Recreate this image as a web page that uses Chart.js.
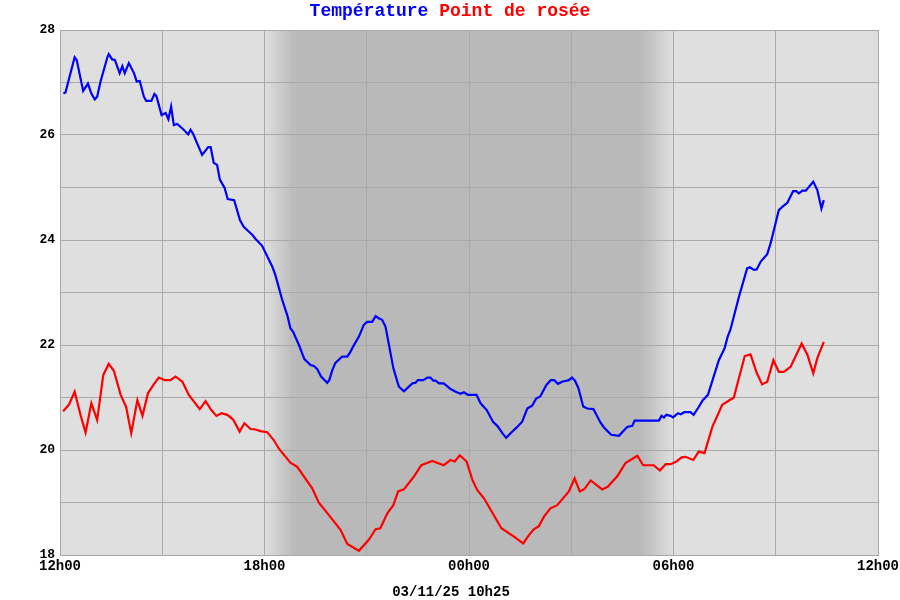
<!DOCTYPE html>
<html>
<head>
<meta charset="utf-8">
<script src="https://cdn.jsdelivr.net/npm/chart.js@4"></script>
<style>
  html, body { margin: 0; padding: 0; background: #ffffff; }
  #wrap { width: 900px; height: 600px; }
</style>
</head>
<body>
<div id="wrap"><canvas id="c" width="900" height="600"></canvas></div>
<script>
// Hours elapsed since 12h00 (02/11/25) and readings in °C
const tempHours = [0.10,0.16,0.43,0.49,0.68,0.82,0.92,1.02,1.09,1.19,1.39,1.43,1.53,1.61,1.75,1.83,1.90,2.02,2.17,2.25,2.34,2.46,2.53,2.68,2.77,2.83,2.98,3.10,3.18,3.26,3.34,3.44,3.63,3.76,3.83,3.90,4.03,4.17,4.35,4.42,4.51,4.61,4.69,4.83,4.92,5.11,5.28,5.39,5.49,5.64,5.74,5.93,6.23,6.32,6.52,6.68,6.76,6.84,7.01,7.17,7.35,7.45,7.55,7.66,7.84,7.90,7.99,8.08,8.28,8.43,8.52,8.60,8.77,8.91,9.01,9.16,9.26,9.35,9.45,9.55,9.78,9.94,10.09,10.34,10.43,10.50,10.66,10.78,10.87,10.95,11.02,11.12,11.26,11.46,11.61,11.75,11.85,11.97,12.22,12.34,12.52,12.71,12.83,12.98,13.09,13.22,13.40,13.56,13.71,13.86,13.97,14.09,14.27,14.40,14.50,14.61,14.73,14.93,15.02,15.11,15.21,15.35,15.47,15.65,15.86,15.96,16.17,16.40,16.64,16.79,16.86,17.57,17.65,17.72,17.79,17.91,17.99,18.13,18.21,18.32,18.50,18.59,18.73,18.86,19.01,19.33,19.50,19.59,19.67,19.92,20.16,20.24,20.36,20.44,20.56,20.75,20.85,21.09,21.19,21.34,21.51,21.60,21.68,21.78,21.88,22.10,22.22,22.34,22.41];
const temperature = [26.79,26.81,27.48,27.43,26.84,26.98,26.79,26.68,26.73,27.02,27.48,27.54,27.44,27.43,27.18,27.31,27.18,27.37,27.18,27.02,27.03,26.73,26.65,26.65,26.78,26.74,26.38,26.42,26.30,26.54,26.19,26.21,26.10,26.01,26.10,26.03,25.83,25.62,25.77,25.77,25.47,25.43,25.15,24.99,24.78,24.76,24.38,24.25,24.19,24.10,24.02,23.89,23.49,23.33,22.86,22.54,22.32,22.25,22.00,21.73,21.62,21.60,21.54,21.40,21.28,21.33,21.52,21.66,21.78,21.78,21.87,21.97,22.16,22.38,22.44,22.44,22.55,22.51,22.48,22.35,21.56,21.21,21.12,21.27,21.28,21.33,21.33,21.38,21.38,21.32,21.32,21.27,21.27,21.16,21.11,21.07,21.10,21.05,21.05,20.89,20.76,20.53,20.46,20.32,20.23,20.32,20.43,20.54,20.79,20.85,20.98,21.02,21.24,21.33,21.33,21.26,21.30,21.33,21.38,21.32,21.18,20.83,20.79,20.78,20.52,20.43,20.29,20.27,20.44,20.46,20.56,20.56,20.65,20.62,20.67,20.65,20.62,20.70,20.68,20.72,20.72,20.67,20.81,20.95,21.05,21.71,21.94,22.16,22.29,22.92,23.46,23.48,23.43,23.44,23.59,23.73,23.94,24.57,24.63,24.71,24.93,24.93,24.89,24.94,24.94,25.11,24.95,24.60,24.76];

const dewHours = [0.09,0.26,0.43,0.60,0.75,0.92,1.09,1.27,1.43,1.58,1.78,1.94,2.09,2.27,2.42,2.58,2.75,2.90,3.07,3.24,3.39,3.59,3.78,4.10,4.27,4.44,4.59,4.74,4.91,5.08,5.27,5.41,5.59,5.74,5.88,6.08,6.27,6.43,6.76,6.96,7.40,7.59,7.89,8.23,8.43,8.77,9.06,9.26,9.40,9.60,9.78,9.92,10.09,10.38,10.60,10.92,11.26,11.46,11.58,11.73,11.93,12.10,12.24,12.44,12.78,12.95,13.32,13.59,13.76,13.90,14.05,14.20,14.39,14.59,14.93,15.10,15.25,15.39,15.57,15.91,16.07,16.35,16.59,16.94,17.11,17.42,17.60,17.77,17.91,18.06,18.24,18.35,18.58,18.74,18.91,19.14,19.43,19.77,20.09,20.26,20.44,20.60,20.75,20.93,21.09,21.24,21.44,21.76,21.93,22.10,22.22,22.41];
const dewPoint = [20.74,20.86,21.11,20.67,20.33,20.89,20.57,21.43,21.64,21.51,21.05,20.82,20.32,20.95,20.65,21.08,21.25,21.38,21.33,21.33,21.40,21.30,21.05,20.78,20.93,20.76,20.65,20.70,20.67,20.58,20.35,20.51,20.40,20.39,20.36,20.34,20.19,20.02,19.76,19.68,19.27,19.00,18.76,18.48,18.21,18.08,18.29,18.49,18.51,18.79,18.95,19.21,19.25,19.49,19.71,19.79,19.71,19.81,19.78,19.90,19.78,19.43,19.24,19.08,18.70,18.51,18.35,18.22,18.38,18.49,18.55,18.73,18.89,18.95,19.21,19.46,19.21,19.26,19.42,19.25,19.30,19.50,19.75,19.89,19.71,19.71,19.61,19.73,19.73,19.77,19.86,19.87,19.81,19.97,19.94,20.44,20.86,21.00,21.79,21.82,21.47,21.25,21.30,21.71,21.49,21.49,21.59,22.03,21.81,21.46,21.75,22.06];

// Axis / text labels
const startHour = 12;
const titleParts = [{ text: 'Température', color: '#0000ff' }, { text: 'Point de rosée', color: '#ff0000' }];
const footerText = '03/11/25 10h25';
// Night shading (hours since start): fade-in start, full dark, fade-out start, end
const night = [6.0, 6.9, 17.05, 18.0];

const FONT = "'Liberation Mono', 'DejaVu Sans Mono', monospace";

const toPoints = (xs, ys) => xs.map((x, i) => ({ x: x, y: ys[i] }));

const bgPlugin = {
  id: 'bg',
  beforeDraw(chart) {
    const { ctx, chartArea: a, scales } = chart;
    const xs = scales.x;
    ctx.save();
    ctx.fillStyle = '#dfdfdf';
    ctx.fillRect(a.left, a.top, a.right - a.left, a.bottom - a.top);
    const p0 = xs.getPixelForValue(night[0]);
    const p1 = xs.getPixelForValue(night[1]);
    const p2 = xs.getPixelForValue(night[2]);
    const p3 = xs.getPixelForValue(night[3]);
    const dark = '#b9b9b9', light = '#dfdfdf';
    let g = ctx.createLinearGradient(p0, 0, p1, 0);
    g.addColorStop(0, light); g.addColorStop(1, dark);
    ctx.fillStyle = g;
    ctx.fillRect(p0, a.top, p1 - p0, a.bottom - a.top);
    ctx.fillStyle = dark;
    ctx.fillRect(p1, a.top, p2 - p1, a.bottom - a.top);
    g = ctx.createLinearGradient(p2, 0, p3, 0);
    g.addColorStop(0, dark); g.addColorStop(1, light);
    ctx.fillStyle = g;
    ctx.fillRect(p2, a.top, p3 - p2, a.bottom - a.top);
    ctx.restore();
  },
  afterDraw(chart) {
    const { ctx } = chart;
    ctx.save();
    ctx.font = 'bold 18px ' + FONT;
    ctx.textBaseline = 'middle';
    ctx.textAlign = 'left';
    const sep = ' ';
    const widths = titleParts.map(p => ctx.measureText(p.text).width);
    const sepW = ctx.measureText(sep).width;
    const total = widths.reduce((s, w) => s + w, 0) + sepW * (titleParts.length - 1);
    let x = 450 - total / 2;
    titleParts.forEach((p, i) => {
      ctx.fillStyle = p.color;
      ctx.fillText(p.text, x, 11);
      x += widths[i] + sepW;
    });
    ctx.font = 'bold 14px ' + FONT;
    ctx.fillStyle = '#000';
    ctx.textAlign = 'center';
    ctx.fillText(footerText, 451, 592);
    ctx.restore();
  }
};

new Chart(document.getElementById('c'), {
  type: 'line',
  data: {
    datasets: [
      { label: 'Température', data: toPoints(tempHours, temperature), borderColor: '#0000ff', borderWidth: 2.2, pointRadius: 0, tension: 0, fill: false },
      { label: 'Point de rosée', data: toPoints(dewHours, dewPoint), borderColor: '#ff0000', borderWidth: 2.2, pointRadius: 0, tension: 0, fill: false }
    ]
  },
  options: {
    responsive: false,
    animation: false,
    layout: { padding: { top: 30, right: 22, bottom: 0, left: 0 } },
    plugins: { legend: { display: false }, title: { display: false }, tooltip: { enabled: false } },
    scales: {
      x: {
        type: 'linear', min: 0, max: 24,
        afterFit(s) { s.height = 45; s.paddingLeft = 0; s.paddingRight = 0; },
        grid: { color: '#a9a9a9', lineWidth: 1, tickLength: 0 },
        border: { color: '#a9a9a9', width: 1 },
        ticks: {
          stepSize: 3, autoSkip: false, maxRotation: 0, padding: 3,
          color: '#000', font: { family: FONT, size: 14, weight: 'bold' },
          callback(v) {
            if (v % 6 !== 0) return '';
            const h = (startHour + v) % 24;
            return String(h).padStart(2, '0') + 'h00';
          }
        }
      },
      y: {
        min: 18, max: 28,
        afterFit(s) { s.width = 60; s.paddingTop = 0; s.paddingBottom = 0; },
        grid: { color: '#a9a9a9', lineWidth: 1, tickLength: 0 },
        border: { color: '#a9a9a9', width: 1 },
        ticks: {
          stepSize: 1, autoSkip: false, padding: 5,
          color: '#000', font: { family: FONT, size: 13, weight: 'bold' },
          callback(v) { return v % 2 === 0 ? String(v) : ''; }
        }
      }
    }
  },
  plugins: [bgPlugin]
});
</script>
</body>
</html>
